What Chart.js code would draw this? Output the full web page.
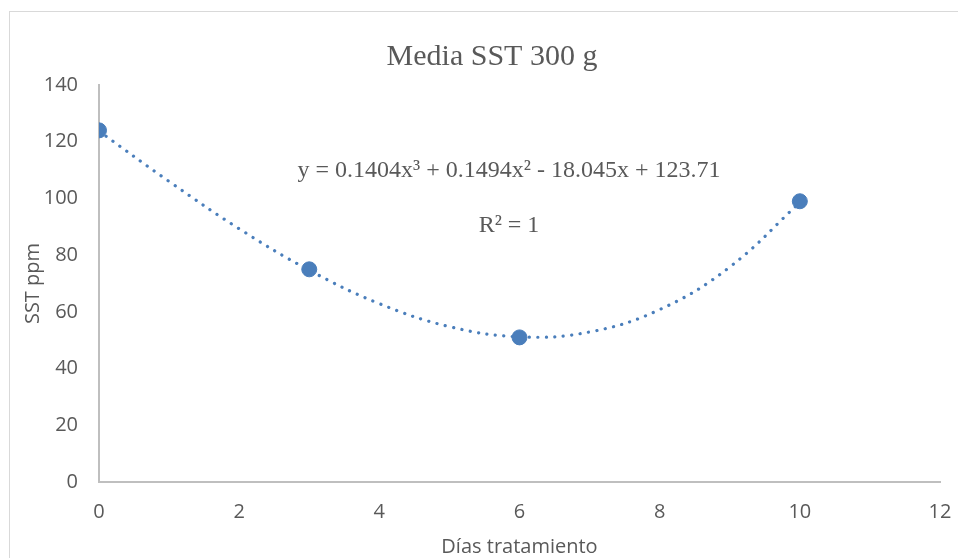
<!DOCTYPE html>
<html>
<head>
<meta charset="utf-8">
<script src="https://cdn.jsdelivr.net/npm/chart.js@4"></script>
<style>
  html, body { margin: 0; padding: 0; background: #fff; }
  #wrap { width: 958px; height: 558px; }
</style>
</head>
<body>
<div id="wrap"><canvas id="sstChart" width="958" height="558"></canvas></div>
<script>
// measured points
var days = [0, 3, 6, 10];
var sstValues = [124, 75, 51, 99];

// trendline values
var trendDays = [0, 1, 2, 3, 4, 5, 6, 7, 8, 9, 10];
var trendValues = [123.7, 106.0, 89.3, 74.7, 62.9, 54.8, 51.2, 52.9, 60.8, 75.8, 98.6];

var yTicks = [0, 20, 40, 60, 80, 100, 120, 140];
var xTicks = [0, 2, 4, 6, 8, 10, 12];

var titleText = 'Media SST 300 g';
var equationText = 'y = 0.1404x\u00B3 + 0.1494x\u00B2 - 18.045x + 123.71';
var r2Text = 'R\u00B2 = 1';

var blue = '#4a7ebb';
var textGray = '#595959';
var axisGray = '#bfbfbf';

var frameAndText = {
    id: 'frameAndText',
    beforeDraw: function (chart) {
        var c = chart.ctx;
        c.save();
        c.strokeStyle = '#d9d9d9';
        c.lineWidth = 1;
        c.strokeRect(9.5, 11.5, 1000, 1000);
        c.restore();
    },
    afterDraw: function (chart) {
        var c = chart.ctx;
        c.save();
        c.fillStyle = textGray;
        c.textAlign = 'center';
        c.textBaseline = 'middle';
        c.font = '30px "Liberation Serif"';
        c.fillText(titleText, 492, 57);
        c.font = '24px "Liberation Serif"';
        c.fillText(equationText, 509, 171);
        c.fillText(r2Text, 509, 226);
        c.restore();
    }
};

var ctx = document.getElementById('sstChart').getContext('2d');
var sstChart = new Chart(ctx, {
    type: 'scatter',
    data: {
        datasets: [
            {
                type: 'line',
                label: 'Poly. (SST)',
                data: trendDays.map((d, i) => ({ x: d, y: trendValues[i] })),
                borderColor: blue,
                borderWidth: 3.2,
                borderDash: [0.1, 8.4],
                borderCapStyle: 'round',
                pointRadius: 0,
                tension: 0.4,
                fill: false,
                order: 2
            },
            {
                label: 'SST',
                data: days.map((d, i) => ({ x: d, y: sstValues[i] })),
                backgroundColor: blue,
                borderColor: blue,
                pointRadius: 7.5,
                order: 1
            }
        ]
    },
    options: {
        responsive: false,
        animation: false,
        layout: { padding: { top: 85, right: 18, left: 0, bottom: 0 } },
        plugins: {
            legend: { display: false },
            tooltip: { enabled: false }
        },
        scales: {
            x: {
                type: 'linear',
                min: 0,
                max: 12,
                afterBuildTicks: function (scale) {
                    scale.ticks = xTicks.map(v => ({ value: v }));
                },
                afterFit: function (scale) {
                    scale.height = 76;
                    scale.paddingLeft = 0;
                    scale.paddingRight = 0;
                },
                grid: { display: false, drawTicks: false },
                border: { color: axisGray, width: 2 },
                ticks: {
                    color: textGray,
                    font: { family: 'Open Sans', size: 20 },
                    padding: 18,
                    maxRotation: 0
                },
                title: {
                    display: true,
                    text: 'Días tratamiento',
                    color: textGray,
                    font: { family: 'Open Sans', size: 20 },
                    padding: { top: 0, bottom: -1 }
                }
            },
            y: {
                min: 0,
                max: 140,
                afterBuildTicks: function (scale) {
                    scale.ticks = yTicks.map(v => ({ value: v }));
                },
                afterFit: function (scale) { scale.width = 99; },
                grid: { display: false, drawTicks: false },
                border: { color: axisGray, width: 2 },
                ticks: {
                    color: textGray,
                    font: { family: 'Open Sans', size: 20 },
                    padding: 21
                },
                title: {
                    display: true,
                    text: 'SST ppm',
                    color: textGray,
                    font: { family: 'Open Sans', size: 20 },
                    padding: { top: 21, bottom: 0 }
                }
            }
        }
    },
    plugins: [frameAndText]
});
</script>
</body>
</html>
